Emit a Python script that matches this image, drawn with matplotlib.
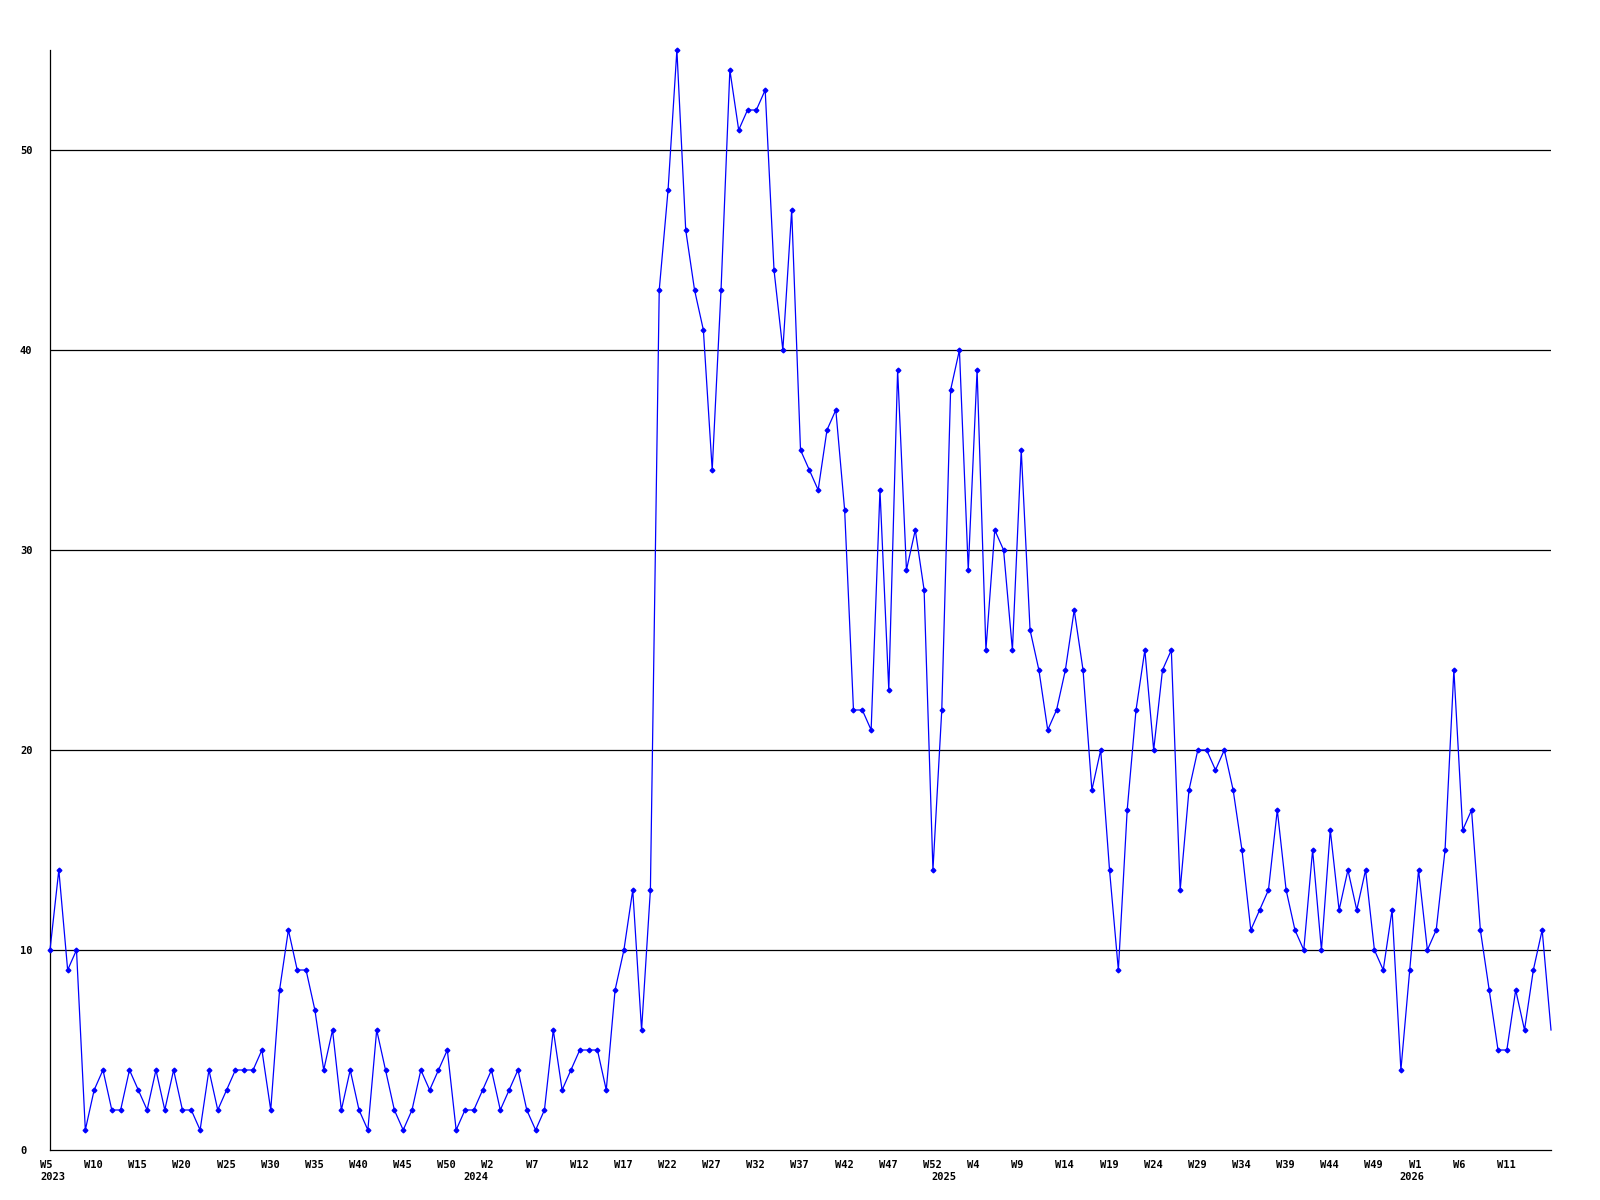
import matplotlib
matplotlib.use("Agg")
import matplotlib.pyplot as plt
import matplotlib.transforms as mtransforms

# ---- data (weekly values, starting at week 5 of 2023) ----
start_year = 2023
start_week = 5
weeks_per_year = 53          # week slots 0..52 per year in the source numbering

values_2023 = [10, 14, 9, 10, 1, 3, 4, 2, 2, 4,
               3, 2, 4, 2, 4, 2, 2, 1, 4, 2,
               3, 4, 4, 4, 5, 2, 8, 11, 9, 9,
               7, 4, 6, 2, 4, 2, 1, 6, 4, 2,
               1, 2, 4, 3, 4, 5, 1, 2]
values_2024 = [2, 3, 4, 2, 3, 4, 2, 1, 2, 6,
               3, 4, 5, 5, 5, 3, 8, 10, 13, 6,
               13, 43, 48, 55, 46, 43, 41, 34, 43, 54,
               51, 52, 52, 53, 44, 40, 47, 35, 34, 33,
               36, 37, 32, 22, 22, 21, 33, 23, 39, 29,
               31, 28, 14]
values_2025 = [22, 38, 40, 29, 39, 25, 31, 30, 25, 35,
               26, 24, 21, 22, 24, 27, 24, 18, 20, 14,
               9, 17, 22, 25, 20, 24, 25, 13, 18, 20,
               20, 19, 20, 18, 15, 11, 12, 13, 17, 13,
               11, 10, 15, 10, 16, 12, 14, 12, 14, 10,
               9, 12, 4]
values_2026 = [9, 14, 10, 11, 15, 24, 16, 17, 11, 8,
               5, 5, 8, 6, 9, 11, 6]

y_ticks = [0, 10, 20, 30, 40, 50]
y_max = 55

values = values_2023 + values_2024 + values_2025 + values_2026
x = list(range(len(values)))

# week numbering for labels
week_nums = []
year_of = []
y, w = start_year, start_week
for _ in x:
    week_nums.append(w)
    year_of.append(y)
    w += 1
    if w >= weeks_per_year:
        w = 0
        y += 1

tick_pos = [i for i in x if i % 5 == 0 and i + 5 <= len(values) - 1]
tick_labels = [f"W{week_nums[i]}" for i in tick_pos]
year_pos = [0] + [i for i in x if week_nums[i] == 0]
year_labels = [str(year_of[i]) for i in year_pos]

# ---- figure ----
fig = plt.figure(figsize=(16, 12), dpi=100)
ax = fig.add_axes([50 / 1600, 50 / 1200, 1501 / 1600, 1100 / 1200])

for gy in y_ticks[1:]:
    ax.axhline(gy, color="black", lw=0.9, zorder=1)

ax.plot(x, values, color="#0000FF", lw=0.9, marker="D", markersize=2.4,
        markerfacecolor="#0000FF", markeredgecolor="#0000FF", zorder=3,
        clip_on=False, markevery=slice(0, len(values) - 1))

ax.set_xlim(0, len(values) - 1)
ax.set_ylim(0, y_max)

for s in ["top", "right"]:
    ax.spines[s].set_visible(False)
for s in ["left", "bottom"]:
    ax.spines[s].set_color("black")
    ax.spines[s].set_linewidth(0.9)

font = dict(family="DejaVu Sans Mono", weight="bold", size=7.5)

ax.set_xticks(tick_pos)
ax.set_xticklabels(tick_labels, **font)
ax.tick_params(axis="x", length=0, pad=7)
offx = mtransforms.ScaledTranslation(-10 / 100, 0, fig.dpi_scale_trans)
for lbl in ax.get_xticklabels():
    lbl.set_horizontalalignment("left")
    lbl.set_transform(lbl.get_transform() + offx)

ax.set_yticks(y_ticks)
ax.set_yticklabels([str(v) for v in y_ticks], **font)
ax.tick_params(axis="y", length=0, pad=0)
offy = mtransforms.ScaledTranslation(-30 / 100, 0, fig.dpi_scale_trans)
for lbl in ax.get_yticklabels():
    lbl.set_horizontalalignment("left")
    lbl.set_transform(lbl.get_transform() + offy)

# year labels under week labels
trans = mtransforms.blended_transform_factory(ax.transData, ax.transAxes)
for p, lab in zip(year_pos, year_labels):
    ax.text(p, 0, lab,
            transform=trans + mtransforms.ScaledTranslation(-10 / 100, -22 / 100, fig.dpi_scale_trans),
            ha="left", va="top", **font)

fig.savefig("out.png", dpi=100, facecolor="white")
